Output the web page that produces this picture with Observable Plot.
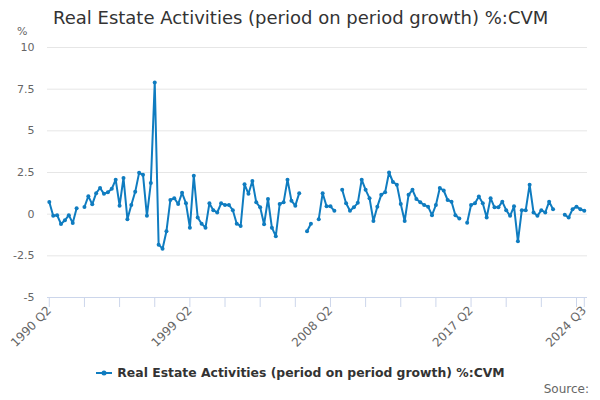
<!DOCTYPE html>
<html>
<head>
<meta charset="utf-8">
<script src="https://cdn.jsdelivr.net/npm/d3@7"></script>
<script src="https://cdn.jsdelivr.net/npm/@observablehq/plot@0.6"></script>
<style>
  html, body { margin: 0; padding: 0; background: #fff; }
  #wrap { position: relative; width: 600px; height: 400px; overflow: hidden; font-family: "DejaVu Sans", sans-serif; }
  #chart { position: absolute; left: 0; top: 0; }
  #title { position: absolute; left: 53px; top: 7px; font-size: 18px; color: #333; white-space: nowrap; }
  #unit { position: absolute; left: 17px; top: 25px; font-size: 11px; color: #666; }
  #legend { position: absolute; left: 0; top: 365px; width: 601px; text-align: center; font-size: 12.4px; font-weight: bold; color: #333; white-space: nowrap; }
  #legend svg { vertical-align: middle; margin-right: 5px; position: relative; top: -1px; }
  #source { position: absolute; right: 11px; top: 382px; font-size: 12px; color: #666; }
</style>
</head>
<body>
<div id="wrap">
  <div id="chart"></div>
  <div id="title">Real Estate Activities (period on period growth) %:CVM</div>
  <div id="unit">%</div>
  <div id="legend"><svg width="16" height="10"><line x1="0" y1="5" x2="16" y2="5" stroke="#0f7cc0" stroke-width="2"/><circle cx="8" cy="5" r="2.5" fill="#0f7cc0"/></svg>Real Estate Activities (period on period growth) %:CVM</div>
  <div id="source">Source:</div>
</div>
<script>
// Series start: 1990 Q2, quarterly, through 2024 Q3 (null = no value shown)
const startYear = 1990;
const startQuarter = 2;
const seriesName = "Real Estate Activities (period on period growth) %:CVM";
const values = [
  0.73, -0.10, -0.06, -0.59, -0.37, -0.06, -0.53, 0.35, null, 0.43,
  1.08, 0.59, 1.26, 1.57, 1.22, 1.32, 1.52, 2.07, 0.51, 2.17,
  -0.30, 0.55, 1.34, 2.48, 2.36, -0.10, 1.87, 7.90, -1.83, -2.07,
  -1.02, 0.85, 0.96, 0.61, 1.28, 0.65, -0.81, 2.30, -0.20, -0.57,
  -0.81, 0.65, 0.24, 0.10, 0.65, 0.55, 0.55, 0.24, -0.57, -0.71,
  1.79, 1.22, 1.99, 0.71, 0.41, -0.61, 0.91, -0.81, -1.32, 0.61,
  0.71, 2.07, 0.81, 0.51, 1.26, null, -1.02, -0.57, null, -0.30,
  1.26, 0.47, 0.47, 0.20, null, 1.46, 0.65, 0.20, 0.41, 0.68,
  2.07, 1.46, 0.96, -0.41, 0.45, 1.16, 1.32, 2.50, 1.93, 1.77,
  0.61, -0.41, 1.16, 1.46, 0.91, 0.71, 0.55, 0.45, -0.06, 0.55,
  1.57, 1.42, 0.85, 0.75, -0.06, -0.26, null, -0.51, 0.55, 0.65,
  1.06, 0.65, -0.20, 0.96, 0.41, 0.41, 0.75, 0.24, -0.10, 0.47,
  -1.63, 0.24, 0.24, 1.77, 0.10, -0.10, 0.24, 0.10, 0.75, 0.30,
  null, null, -0.04, -0.20, 0.30, 0.45, 0.30, 0.20
];
const yTicks = [-5, -2.5, 0, 2.5, 5, 7.5, 10];
const xTickLabels = ["1990 Q2", "1999 Q2", "2008 Q2", "2017 Q2", "2024 Q3"];

const color = "#0f7cc0";

function quarterLabel(i) {
  const q0 = (startQuarter - 1) + i;
  return (startYear + Math.floor(q0 / 4)) + " Q" + ((q0 % 4) + 1);
}
const data = values.map((v, i) => ({i, q: quarterLabel(i), v}));
const n = values.length;
const tickIdx = d3.range(0, n, 9).concat([n - 1]);
const labelIdx = data.filter(d => xTickLabels.includes(d.q)).map(d => d.i);
const labelOf = new Map(data.map(d => [d.i, d.q]));

const chart = Plot.plot({
  width: 600,
  height: 400,
  marginLeft: 47,
  marginRight: 13,
  marginTop: 47,
  marginBottom: 103,
  x: {type: "linear", domain: [-0.46, n - 1 + 0.82], axis: null},
  y: {domain: [-5, 10], axis: null},
  style: {fontFamily: "DejaVu Sans, sans-serif", fontSize: "11px", background: "transparent", overflow: "visible"},
  marks: [
    Plot.ruleY(yTicks.filter(d => d !== -5), {stroke: "#e6e6e6", strokeWidth: 1}),
    Plot.axisY({ticks: yTicks, label: null, tickSize: 0, tickPadding: 13, tickFormat: d => String(d), fill: "#666", fontSize: 11}),
    Plot.ruleY([-5], {stroke: "#ccd6eb", strokeWidth: 1}),
    Plot.axisX({ticks: tickIdx, label: null, tickSize: 10, tickFormat: () => "", stroke: "#ccd6eb"}),
    Plot.axisX({ticks: labelIdx, label: null, tickSize: 0, tickPadding: 11, tickRotate: -45, tickFormat: i => labelOf.get(i), fill: "#666", fontSize: 12}),
    Plot.line(data, {x: "i", y: "v", stroke: color, strokeWidth: 2}),
    Plot.dot(data.filter(d => d.v != null), {x: "i", y: "v", r: 2, fill: color, stroke: "none"})
  ]
});
document.getElementById("chart").appendChild(chart);
</script>
</body>
</html>
